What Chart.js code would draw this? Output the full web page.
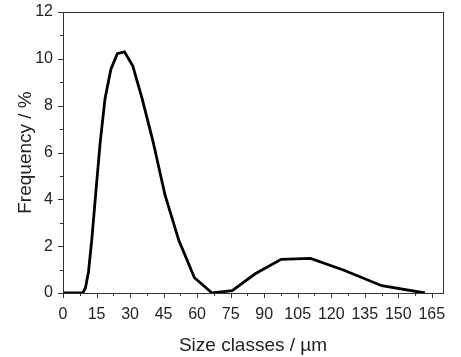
<!DOCTYPE html>
<html><head><meta charset="utf-8">
<script src="https://cdn.jsdelivr.net/npm/chart.js@4/dist/chart.umd.min.js"></script>
<style>html,body{margin:0;padding:0;background:#fff}#wrap{width:461px;height:357px}</style>
</head><body><div id="wrap"><canvas id="c"></canvas></div>
<script>
const sizeClasses = [0, 8.8, 10.0, 11.4, 12.9, 14.6, 16.6, 18.8, 21.4, 24.3, 27.5, 31.2, 35.4, 40.2, 45.6, 51.8, 58.8, 66.7, 75.7, 86.0, 97.6, 110.7, 125.7, 142.6, 161.9];
const frequency   = [0, 0,   0.2,  0.9,  2.3,  4.2,  6.4,  8.3,  9.55, 10.22, 10.3, 9.7, 8.3, 6.5, 4.2, 2.25, 0.65, 0.0, 0.1, 0.82, 1.44, 1.48, 0.97, 0.31, 0.0];
const xTickLabels = [0, 15, 30, 45, 60, 75, 90, 105, 120, 135, 150, 165];
const yTickLabels = [0, 2, 4, 6, 8, 10, 12];

const pts = sizeClasses.map((x, i) => ({x, y: frequency[i]}));
const FAM = 'Liberation Sans, Arial, sans-serif';
const TICKFONT = {family: FAM, size: 16};
const TITLEFONT = {family: FAM, size: 19};

const tickPlugin = {
  id: 'ticksFrame',
  afterDraw(chart) {
    const ctx = chart.ctx, a = chart.chartArea;
    const xs = chart.scales.x, ys = chart.scales.y;
    ctx.save();
    ctx.strokeStyle = '#333';
    ctx.lineWidth = 1;
    ctx.strokeRect(Math.round(a.left) + 0.5, Math.round(a.top) + 0.5, Math.round(a.right - a.left), Math.round(a.bottom - a.top));
    ctx.beginPath();
    for (let v = 0; v <= 165; v += 7.5) {
      const px = Math.round(xs.getPixelForValue(v)) + 0.5;
      const major = xTickLabels.includes(v);
      ctx.moveTo(px, Math.round(a.bottom));
      ctx.lineTo(px, Math.round(a.bottom) + (major ? 5 : 3));
    }
    for (let v = 0; v <= 12; v += 1) {
      const py = Math.round(ys.getPixelForValue(v)) + 0.5;
      const major = yTickLabels.includes(v);
      ctx.moveTo(Math.round(a.left), py);
      ctx.lineTo(Math.round(a.left) - (major ? 5 : 3), py);
    }
    ctx.stroke();
    ctx.restore();
  }
};

new Chart(document.getElementById('c'), {
  type: 'line',
  data: {datasets: [{data: pts, borderColor: '#000', borderWidth: 2.8, pointRadius: 0, tension: 0, fill: false}]},
  options: {
    responsive: true, maintainAspectRatio: false, animation: false,
    layout: {padding: {top: 12, right: 18, left: 0, bottom: 0}},
    plugins: {legend: {display: false}, tooltip: {enabled: false}},
    scales: {
      x: {
        type: 'linear', min: 0, max: 170,
        afterBuildTicks: s => { s.ticks = xTickLabels.map(v => ({value: v})); },
        afterFit: s => { s.height = 64; s.paddingLeft = 0; s.paddingRight = 0; },
        grid: {display: false, drawTicks: false},
        border: {display: false},
        ticks: {font: TICKFONT, color: '#222', padding: 12, maxRotation: 0, autoSkip: false},
        title: {display: true, text: 'Size classes / µm', font: TITLEFONT, color: '#222', padding: {top: 0, bottom: 0}}
      },
      y: {
        type: 'linear', min: 0, max: 12,
        afterBuildTicks: s => { s.ticks = yTickLabels.map(v => ({value: v})); },
        afterFit: s => { s.width = 63; s.paddingTop = 0; s.paddingBottom = 0; },
        grid: {display: false, drawTicks: false},
        border: {display: false},
        ticks: {font: TICKFONT, color: '#222', padding: 10},
        title: {display: true, text: 'Frequency / %', font: TITLEFONT, color: '#222', padding: {top: 14, bottom: 12}}
      }
    }
  },
  plugins: [tickPlugin]
});
</script></body></html>
